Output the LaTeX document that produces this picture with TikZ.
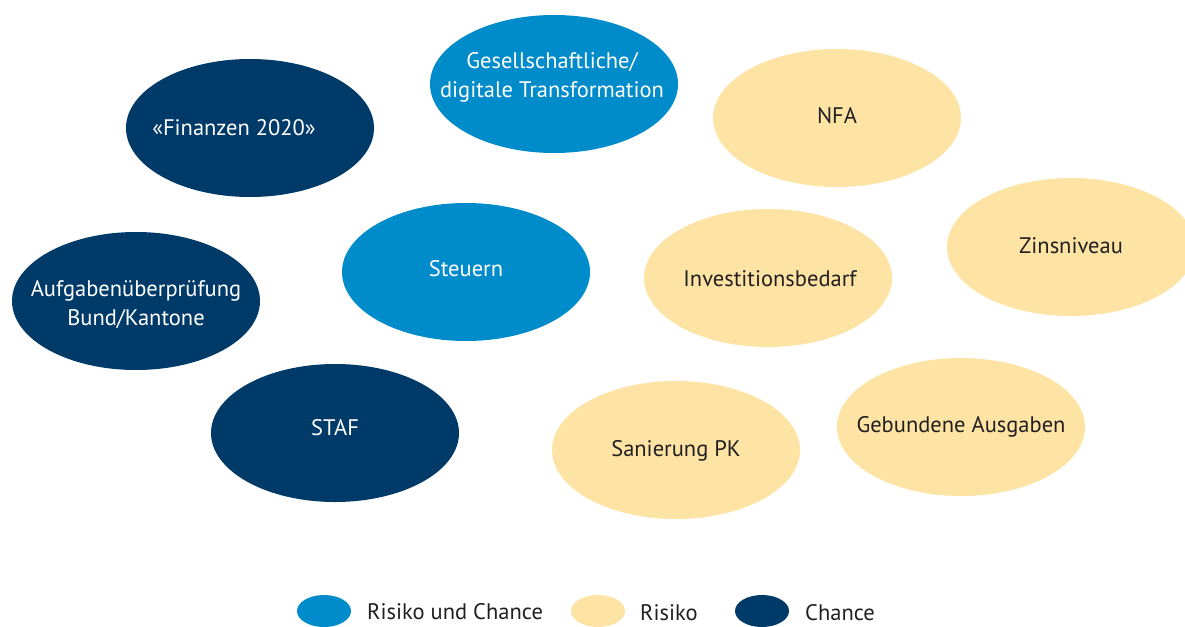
\documentclass[tikz,border=0pt]{standalone}
\usepackage{fontspec}
\setmainfont{PT Sans}
\usetikzlibrary{shapes.geometric}
\definecolor{rc}{RGB}{0,139,202}
\definecolor{ri}{RGB}{253,228,165}
\definecolor{ch}{RGB}{0,58,105}
\definecolor{tx}{RGB}{35,31,32}
\tikzset{
  bub/.style={ellipse, inner sep=0pt, minimum width=248pt, minimum height=138pt, align=center},
  bt/.style={inner sep=0pt, align=center, font=\fontsize{22.5}{29}\selectfont},
  rcb/.style={bub, fill=rc},
  rib/.style={bub, fill=ri},
  chb/.style={bub, fill=ch},
  wt/.style={bt, text=white},
  dt/.style={bt, text=tx},
  leg/.style={ellipse, inner sep=0pt, minimum width=54pt, minimum height=32pt},
  legt/.style={anchor=west, inner sep=0pt, text=tx, font=\fontsize{22.5}{26}\selectfont}
}
\begin{document}
\begin{tikzpicture}[x=1pt,y=-1pt]
\clip (0,0) rectangle (1185,626);
\fill[white] (0,0) rectangle (1185,626);
\node[chb] (fin) at (250,128) {};
\node[wt] (fint) at (234,128) {«Finanzen 2020»};
\node[rcb] (ges) at (554,84) {};
\node[wt] (gest) at (552,77) {Gesellschaftliche/\\digitale Transformation};
\node[rib] (nfa) at (837,118) {};
\node[dt] (nfat) at (837,116) {NFA};
\node[rib] (zins) at (1071,247) {};
\node[dt] (zinst) at (1071,246) {Zinsniveau};
\node[rcb] (st) at (466,272) {};
\node[wt] (stt) at (466,269) {Steuern};
\node[rib] (inv) at (768,278) {};
\node[dt] (invt) at (770,279) {Investitionsbedarf};
\node[chb] (auf) at (136,301) {};
\node[wt] (auft) at (136,305) {Aufgabenüberprüfung\\Bund/Kantone};
\node[chb] (staf) at (335,433) {};
\node[wt] (staft) at (335,428) {STAF};
\node[rib] (san) at (676,450) {};
\node[dt] (sant) at (676,451) {Sanierung PK};
\node[rib] (geb) at (961,427) {};
\node[dt] (gebt) at (961,427) {Gebundene Ausgaben};
\node[leg, fill=rc] (l1) at (324,611) {};
\node[legt] (t1) at (367,612) {Risiko und Chance};
\node[leg, fill=ri] (l2) at (598,611) {};
\node[legt] (t2) at (640,613) {Risiko};
\node[leg, fill=ch] (l3) at (762,611) {};
\node[legt] (t3) at (805,613) {Chance};
\end{tikzpicture}
\end{document}
